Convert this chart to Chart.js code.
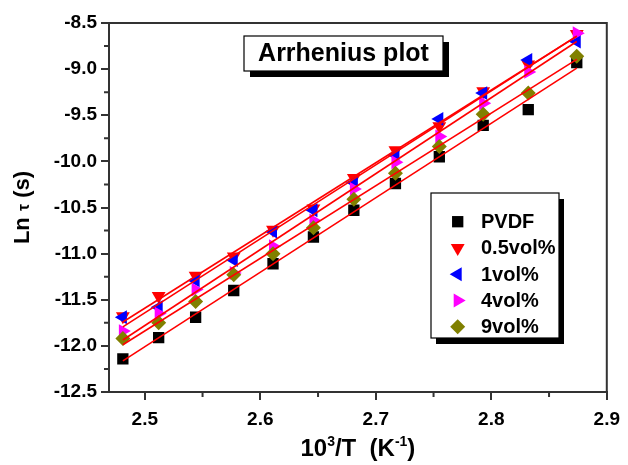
<!DOCTYPE html>
<html lang="en">
<head>
<meta charset="UTF-8" />
<title>Arrhenius plot</title>
<script src="https://cdn.jsdelivr.net/npm/chart.js"></script>
<style>
  html, body { margin: 0; padding: 0; background: #fff; }
  #wrap { width: 628px; height: 465px; }
</style>
</head>
<body>
<div id="wrap"><canvas id="arrhenius" width="628" height="465"></canvas></div>
<script>
  // 1000/T (K^-1) and ln(tau)
  const invT = [2.481, 2.512, 2.544, 2.577, 2.611, 2.646, 2.681, 2.717, 2.755, 2.793, 2.832, 2.874];
  const seriesNames = ["PVDF", "0.5vol%", "1vol%", "4vol%", "9vol%"];
  const lnTauPVDF = [-12.14, -11.91, -11.69, -11.40, -11.11, -10.82, -10.53, -10.24, -9.95, -9.61, -9.44, -8.93];
  const lnTau05 = [-11.68, -11.46, -11.24, -11.03, -10.74, -10.51, -10.18, -9.88, -9.62, -9.24, -8.95, -8.62];
  const lnTau1 = [-11.69, -11.58, -11.29, -11.07, -10.76, -10.53, -10.23, -9.93, -9.54, -9.26, -8.90, -8.70];
  const lnTau4 = [-11.84, -11.65, -11.39, -11.21, -10.92, -10.64, -10.30, -10.01, -9.73, -9.37, -9.03, -8.61];
  const lnTau9 = [-11.92, -11.75, -11.52, -11.23, -11.00, -10.72, -10.41, -10.13, -9.84, -9.49, -9.26, -8.86];
  const xTicks = [2.5, 2.6, 2.7, 2.8, 2.9];
  const xMinorTicks = [2.55, 2.65, 2.75, 2.85];
  const yTicks = [-12.5, -12.0, -11.5, -11.0, -10.5, -10.0, -9.5, -9.0, -8.5];
  const yMinorTicks = [-12.25, -11.75, -11.25, -10.75, -10.25, -9.75, -9.25, -8.75];

  const allSeries = [lnTauPVDF, lnTau05, lnTau1, lnTau4, lnTau9];
  const colors = ["#000000", "#ff0000", "#0000ff", "#ff00ff", "#808000"];
  const shapes = ["rect", "triangle", "triangle", "triangle", "rectRot"];
  const turns = [0, 180, -90, 90, 0];
  const sizes = [8, 8, 8, 8, 7.5];

  const FONT = 'Arial, "Liberation Sans", sans-serif';

  // least squares line through each series
  function fitLine(xs, ys) {
    const n = xs.length;
    const mx = xs.reduce((a, b) => a + b, 0) / n;
    const my = ys.reduce((a, b) => a + b, 0) / n;
    let sxy = 0, sxx = 0;
    for (let i = 0; i < n; i++) {
      sxy += (xs[i] - mx) * (ys[i] - my);
      sxx += (xs[i] - mx) * (xs[i] - mx);
    }
    const b = sxy / sxx, a = my - b * mx;
    return [{ x: xs[0], y: a + b * xs[0] }, { x: xs[n - 1], y: a + b * xs[n - 1] }];
  }

  const datasets = [];
  allSeries.forEach((ys, i) => {
    datasets.push({
      label: seriesNames[i],
      data: invT.map((x, j) => ({ x: x, y: ys[j] })),
      backgroundColor: colors[i],
      borderColor: colors[i],
      borderWidth: 0,
      pointStyle: shapes[i],
      pointRotation: turns[i],
      pointRadius: sizes[i],
      pointHoverRadius: sizes[i],
      showLine: false,
      order: 5 - i
    });
  });
  allSeries.forEach((ys, i) => {
    datasets.push({
      label: seriesNames[i] + " fit",
      data: fitLine(invT, ys),
      borderColor: "#ff0000",
      borderWidth: 1.6,
      pointRadius: 0,
      showLine: true,
      order: 0
    });
  });

  const decorations = {
    id: "decorations",
    afterDraw(chart) {
      const ctx = chart.ctx;
      const area = chart.chartArea;
      const xs = chart.scales.x, ys = chart.scales.y;
      ctx.save();

      // box on top and right
      ctx.strokeStyle = "#333";
      ctx.lineWidth = 2;
      ctx.beginPath();
      ctx.moveTo(area.left, area.top);
      ctx.lineTo(area.right, area.top);
      ctx.lineTo(area.right, area.bottom);
      ctx.stroke();

      // minor ticks
      ctx.beginPath();
      xMinorTicks.forEach(v => {
        const px = xs.getPixelForValue(v);
        ctx.moveTo(px, area.bottom);
        ctx.lineTo(px, area.bottom + 5);
      });
      yMinorTicks.forEach(v => {
        const py = ys.getPixelForValue(v);
        ctx.moveTo(area.left, py);
        ctx.lineTo(area.left - 5, py);
      });
      ctx.stroke();

      // title box
      ctx.fillStyle = "#000";
      ctx.fillRect(250, 42, 199, 35);
      ctx.fillStyle = "#fff";
      ctx.fillRect(244, 36, 199, 35);
      ctx.lineWidth = 1.2;
      ctx.strokeStyle = "#000";
      ctx.strokeRect(244, 36, 199, 35);
      ctx.fillStyle = "#000";
      ctx.font = "bold 25px " + FONT;
      ctx.textAlign = "center";
      ctx.textBaseline = "middle";
      ctx.fillText("Arrhenius plot", 343.5, 54.5);

      // legend
      ctx.fillStyle = "#000";
      ctx.fillRect(436, 199, 128, 145);
      ctx.fillStyle = "#fff";
      ctx.fillRect(431, 193, 128, 145);
      ctx.strokeRect(431, 193, 128, 145);
      ctx.font = "bold 20px " + FONT;
      ctx.textAlign = "left";
      seriesNames.forEach((name, i) => {
        const yy = 221.7 + i * 26.25;
        ctx.fillStyle = colors[i];
        Chart.helpers.drawPoint(ctx, {
          pointStyle: shapes[i], radius: sizes[i], rotation: turns[i], borderWidth: 0
        }, 457.7, yy);
        ctx.fillStyle = "#000";
        ctx.fillText(name, 481, yy + 1);
      });

      // x axis title with superscripts
      const cx = (area.left + area.right) / 2;
      const big = "bold 24px " + FONT, small = "bold 14px " + FONT;
      const parts = [["10", big, 0], ["3", small, -10], ["/T  (K", big, 0], ["-1", small, -10], [")", big, 0]];
      let total = 0;
      parts.forEach(p => { ctx.font = p[1]; total += ctx.measureText(p[0]).width; });
      let px = cx - total / 2;
      ctx.textBaseline = "alphabetic";
      ctx.fillStyle = "#000";
      parts.forEach(p => {
        ctx.font = p[1];
        ctx.fillText(p[0], px, 456 + p[2]);
        px += ctx.measureText(p[0]).width;
      });

      // y axis title
      const ybig = "bold 22px " + FONT;
      ctx.translate(29, (area.top + area.bottom) / 2);
      ctx.rotate(-Math.PI / 2);
      const yparts = [["Ln ", ybig], ["\u03c4", "bold 16px " + FONT], [" (s)", ybig]];
      total = 0;
      yparts.forEach(p => { ctx.font = p[1]; total += ctx.measureText(p[0]).width; });
      px = -total / 2;
      yparts.forEach(p => {
        ctx.font = p[1];
        ctx.fillText(p[0], px, 0);
        px += ctx.measureText(p[0]).width;
      });
      ctx.restore();
    }
  };

  const tickFont = { family: FONT, size: 19, weight: "bold" };

  new Chart(document.getElementById("arrhenius").getContext("2d"), {
    type: "scatter",
    data: { datasets: datasets },
    options: {
      responsive: false,
      animation: false,
      layout: { padding: { left: 0, right: 15, top: 23, bottom: 0 } },
      plugins: { legend: { display: false }, tooltip: { enabled: false } },
      scales: {
        x: {
          type: "linear",
          min: 2.469,
          max: 2.9,
          afterBuildTicks: s => { s.ticks = xTicks.map(v => ({ value: v })); },
          afterFit: s => { s.height = 73; },
          grid: { drawOnChartArea: false, color: "#333", lineWidth: 2, tickLength: 8 },
          border: { color: "#333", width: 2 },
          ticks: { font: tickFont, color: "#000", padding: 8, maxRotation: 0, callback: v => v.toFixed(1) }
        },
        y: {
          type: "linear",
          min: -12.5,
          max: -8.5,
          afterBuildTicks: s => { s.ticks = yTicks.map(v => ({ value: v })); },
          afterFit: s => { s.width = 109; },
          grid: { drawOnChartArea: false, color: "#333", lineWidth: 2, tickLength: 8 },
          border: { color: "#333", width: 2 },
          ticks: { font: tickFont, color: "#000", padding: 4, callback: v => v.toFixed(1) }
        }
      }
    },
    plugins: [decorations]
  });
</script>
</body>
</html>
